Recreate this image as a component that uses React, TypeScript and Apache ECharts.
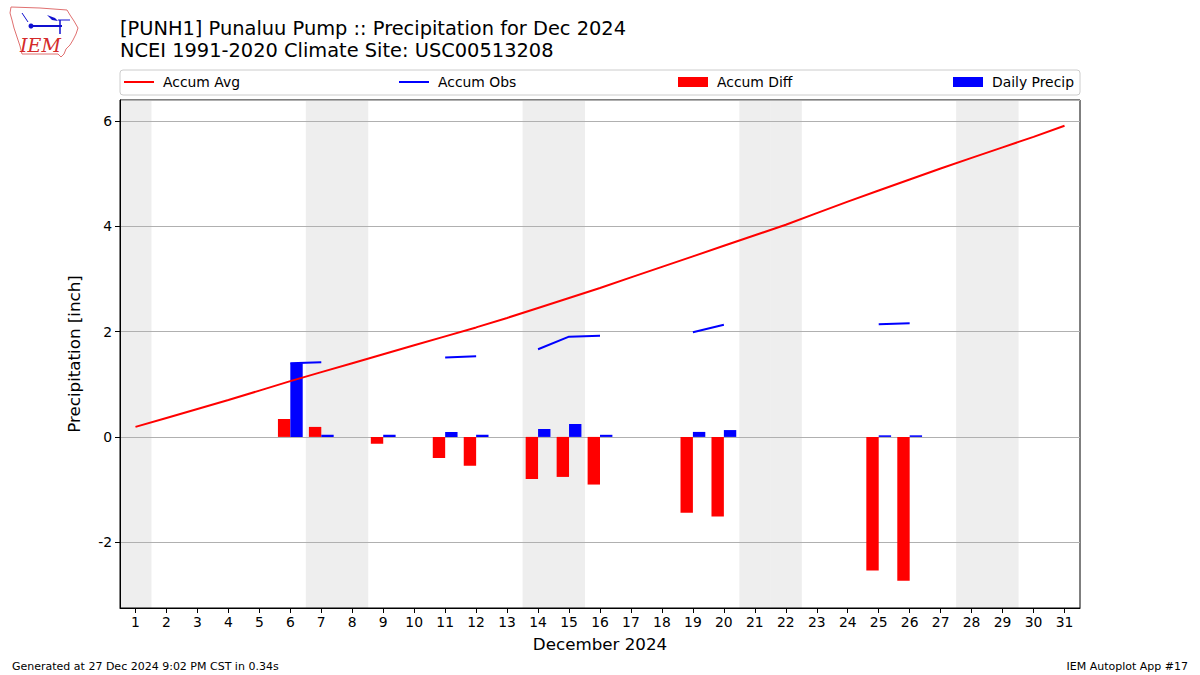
import React, { useEffect, useRef } from "react";
import * as echarts from "echarts";

const days = Array.from({ length: 31 }, (_, i) => String(i + 1));
const accumAvg = [0.19, 0.36, 0.53, 0.7, 0.88, 1.06, 1.23, 1.4, 1.57, 1.74, 1.91, 2.08, 2.26, 2.45, 2.64, 2.83, 3.03, 3.23, 3.43, 3.63, 3.83, 4.03, 4.25, 4.47, 4.68, 4.89, 5.1, 5.3, 5.5, 5.7, 5.91];
// null = no observation that day
const accumObs = [null, null, null, null, null, 1.4, 1.42, null, 1.46, null, 1.51, 1.53, null, 1.665, 1.905, 1.92, null, null, 1.99, 2.13, null, null, null, null, 2.14, 2.16, null, null, null, null, null];
const accumDiff = [null, null, null, null, null, 0.34, 0.19, null, -0.13, null, -0.4, -0.55, null, -0.8, -0.76, -0.905, null, null, -1.44, -1.51, null, null, null, null, -2.54, -2.73, null, null, null, null, null];
const dailyPrecip = [null, null, null, null, null, 1.4, 0.04, null, 0.04, null, 0.095, 0.04, null, 0.15, 0.245, 0.04, null, null, 0.095, 0.13, null, null, null, null, 0.03, 0.03, null, null, null, null, null];
const weekendDays = [1, 7, 8, 14, 15, 21, 22, 28, 29];

const FONT = "DejaVu Sans";

export default function App() {
  const ref = useRef<HTMLDivElement>(null);
  useEffect(() => {
    if (!ref.current) return;
    const chart = echarts.init(ref.current, null, { renderer: "svg" });
    const legendBase = {
      top: 75,
      itemWidth: 30,
      itemHeight: 10,
      textStyle: { fontFamily: FONT, fontSize: 13.9, color: "#000", padding: [0, 0, 0, 4] },
      selectedMode: false,
      padding: 0,
    };
    chart.setOption({
      animation: false,
      backgroundColor: "#fff",
      textStyle: { fontFamily: FONT },
      title: {
        text: "[PUNH1] Punaluu Pump :: Precipitation for Dec 2024\nNCEI 1991-2020 Climate Site: USC00513208",
        left: 120,
        top: 17,
        padding: 0,
        textStyle: { fontFamily: FONT, fontSize: 19.4, fontWeight: "normal", color: "#000", lineHeight: 22 },
      },
      legend: [
        { ...legendBase, left: 124, itemHeight: 2, data: [{ name: "Accum Avg", icon: "rect" }] },
        { ...legendBase, left: 399, itemHeight: 2, data: [{ name: "Accum Obs", icon: "rect" }] },
        { ...legendBase, left: 678, data: [{ name: "Accum Diff", icon: "rect" }] },
        { ...legendBase, left: 953, data: [{ name: "Daily Precip", icon: "rect" }] },
      ],
      grid: {
        left: 120,
        right: 120,
        top: 100,
        bottom: 67,
        show: true,
        borderColor: "#000",
        borderWidth: 1,
        backgroundColor: "transparent",
        containLabel: false,
      },
      xAxis: [
        {
          type: "category",
          data: days,
          boundaryGap: true,
          name: "December 2024",
          nameLocation: "middle",
          nameGap: 27,
          nameTextStyle: { fontFamily: FONT, fontSize: 16.7, color: "#000" },
          axisLine: { show: true, onZero: false, lineStyle: { color: "#000", width: 1 } },
          axisTick: { show: true, alignWithLabel: true, interval: 0, length: 5, lineStyle: { color: "#000" } },
          axisLabel: { interval: 0, color: "#000", fontSize: 13.9, fontFamily: FONT, margin: 7 },
          splitLine: { show: false },
        },
        {
          type: "value",
          min: 0.5,
          max: 31.5,
          show: false,
          splitLine: { show: false },
        },
      ],
      yAxis: {
        type: "value",
        min: -3.25,
        max: 6.4,
        splitNumber: 5,
        name: "Precipitation [inch]",
        nameLocation: "middle",
        nameGap: 38,
        nameTextStyle: { fontFamily: FONT, fontSize: 16.7, color: "#000" },
        axisLine: { show: true, lineStyle: { color: "#000", width: 1 } },
        axisTick: { show: true, length: 5, lineStyle: { color: "#000" } },
        axisLabel: { color: "#000", fontSize: 13.9, fontFamily: FONT, margin: 8, showMinLabel: false, showMaxLabel: false },
        splitLine: { show: true, lineStyle: { color: "#b0b0b0", width: 1 } },
      },
      series: [
        {
          type: "custom",
          name: "weekend",
          xAxisIndex: 1,
          yAxisIndex: 0,
          z: -1,
          silent: true,
          data: weekendDays.map((d) => [d, 0]),
          encode: { x: 0, y: 1 },
          renderItem: (params: any, api: any) => {
            const d = api.value(0);
            const p0 = api.coord([d - 0.5, 0]);
            const p1 = api.coord([d + 0.5, 0]);
            const cs = params.coordSys;
            return {
              type: "rect",
              shape: { x: p0[0], y: cs.y, width: p1[0] - p0[0] + 0.5, height: cs.height },
              style: { fill: "#eeeeee" },
            };
          },
        },
        {
          type: "line",
          name: "Accum Avg",
          data: accumAvg,
          showSymbol: false,
          symbol: "none",
          lineStyle: { color: "#ff0000", width: 2 },
          itemStyle: { color: "#ff0000" },
          z: 3,
        },
        {
          type: "line",
          name: "Accum Obs",
          data: accumObs,
          connectNulls: false,
          showSymbol: false,
          symbol: "none",
          lineStyle: { color: "#0000ff", width: 2 },
          itemStyle: { color: "#0000ff" },
          z: 3,
        },
        {
          type: "bar",
          name: "Accum Diff",
          data: accumDiff,
          barWidth: "40%",
          barGap: "0%",
          itemStyle: { color: "#ff0000" },
        },
        {
          type: "bar",
          name: "Daily Precip",
          data: dailyPrecip,
          barWidth: "40%",
          barGap: "0%",
          itemStyle: { color: "#0000ff" },
        },
      ],
      graphic: [
        {
          type: "rect",
          shape: { x: 120, y: 70, width: 960, height: 25, r: 3 },
          style: { fill: "#fff", stroke: "#cccccc", lineWidth: 1 },
          z: -10,
        },
        {
          type: "polygon",
          shape: {
            points: [[11, 7], [40, 8], [67, 10], [70, 15], [74, 21], [78, 28], [76, 34], [73, 40], [70, 45], [66, 49], [64, 54], [61, 57], [58, 54], [22, 54], [20, 46], [17, 37], [14, 28], [12, 20], [10, 13]],
          },
          style: { fill: "#fff", stroke: "#e07070", lineWidth: 1 },
        },
        {
          type: "line",
          shape: { x1: 31, y1: 26, x2: 62, y2: 26 },
          style: { stroke: "#1010d0", lineWidth: 2 },
        },
        {
          type: "circle",
          shape: { cx: 31, cy: 26, r: 2.5 },
          style: { fill: "#1010d0" },
        },
        {
          type: "line",
          shape: { x1: 22, y1: 13, x2: 28, y2: 22 },
          style: { stroke: "#1010d0", lineWidth: 1 },
        },
        {
          type: "polygon",
          shape: { points: [[47, 15], [55, 18], [58, 21], [52, 20]] },
          style: { fill: "#1010d0" },
        },
        {
          type: "line",
          shape: { x1: 60, y1: 20, x2: 60, y2: 34 },
          style: { stroke: "#1010d0", lineWidth: 1.5 },
        },
        {
          type: "line",
          shape: { x1: 58, y1: 20, x2: 70, y2: 20 },
          style: { stroke: "#1010d0", lineWidth: 1 },
        },
        {
          type: "text",
          x: 20,
          y: 35,
          style: { text: "IEM", fill: "#d42a2a", font: "italic 19px 'DejaVu Serif'" },
        },
        {
          type: "text",
          x: 12,
          y: 661,
          style: { text: "Generated at 27 Dec 2024 9:02 PM CST in 0.34s", fill: "#000", font: "11px 'DejaVu Sans'" },
        },
        {
          type: "text",
          right: 12,
          y: 661,
          style: { text: "IEM Autoplot App #17", fill: "#000", font: "11px 'DejaVu Sans'" },
        },
      ],
    });
    return () => chart.dispose();
  }, []);
  return <div ref={ref} style={{ width: 1200, height: 675, position: "absolute", left: 0, top: 0 }} />;
}
